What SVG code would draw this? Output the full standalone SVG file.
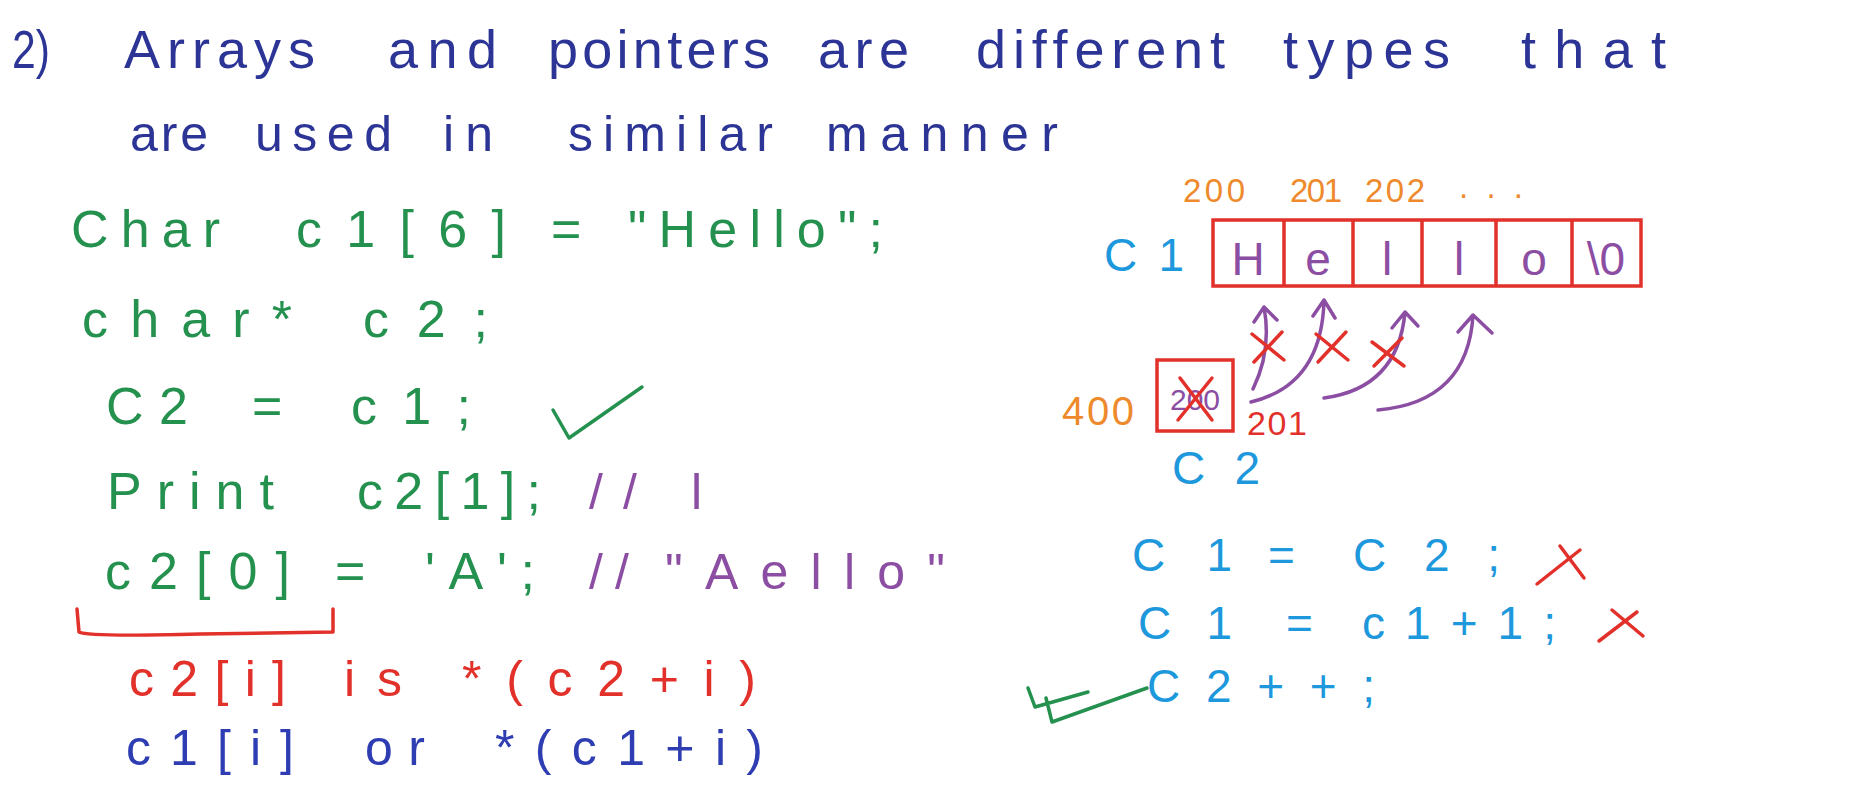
<svg xmlns="http://www.w3.org/2000/svg" width="1865" height="785" viewBox="0 0 1865 785">
<style>
text{font-family:"Liberation Sans","DejaVu Sans",sans-serif;}
.t1{font-size:54px;fill:#2c3596;}
.t2{font-size:50px;fill:#2c3596;}
.g{font-size:52px;fill:#24914f;}
.pu{font-size:50px;fill:#8c4ea3;}
.r{font-size:50px;fill:#e2312a;}
.b{font-size:50px;fill:#2f3db2;}
.cy{font-size:46px;fill:#1d98dc;}
.or{font-size:33px;fill:#ee8a2c;}
.cell{font-size:46px;fill:#8c4ea3;text-anchor:middle;}
.mark{fill:none;stroke-linecap:round;stroke-linejoin:round;stroke-width:3.5;}
.red{stroke:#e2312a;}
.grn{stroke:#24914f;}
.arr{fill:none;stroke:#8c4ea3;stroke-width:3.5;stroke-linecap:round;stroke-linejoin:round;}
</style>
<rect width="1865" height="785" fill="#ffffff"/>

<g id="title">
<text class="t1" x="12" y="68" textLength="38" lengthAdjust="spacingAndGlyphs">2)</text>
<text class="t1" x="124" y="68" textLength="191" lengthAdjust="spacing">Arrays</text>
<text class="t1" x="388" y="68" textLength="109" lengthAdjust="spacing">and</text>
<text class="t1" x="548" y="68" textLength="222" lengthAdjust="spacing">pointers</text>
<text class="t1" x="818" y="68" textLength="91" lengthAdjust="spacing">are</text>
<text class="t1" x="976" y="68" textLength="249" lengthAdjust="spacing">different</text>
<text class="t1" x="1283" y="68" textLength="167" lengthAdjust="spacing">types</text>
<text class="t1" x="1521" y="68" textLength="145" lengthAdjust="spacing">that</text>
<text class="t2" x="130" y="151" textLength="78" lengthAdjust="spacing">are</text>
<text class="t2" x="255" y="151" textLength="137" lengthAdjust="spacing">used</text>
<text class="t2" x="443" y="151" textLength="50" lengthAdjust="spacing">in</text>
<text class="t2" x="568" y="151" textLength="205" lengthAdjust="spacing">similar</text>
<text class="t2" x="826" y="151" textLength="232" lengthAdjust="spacing">manner</text>
</g>

<g id="code-left">
<text class="g" x="71" y="247" textLength="149" lengthAdjust="spacing">Char</text>
<text class="g" x="296" y="247" textLength="210" lengthAdjust="spacing">c1[6]</text>
<text class="g" x="551" y="247">=</text>
<text class="g" x="628" y="247" textLength="255" lengthAdjust="spacing">"Hello";</text>

<text class="g" x="82" y="337" textLength="210" lengthAdjust="spacing">char*</text>
<text class="g" x="363" y="337" textLength="125" lengthAdjust="spacing">c2;</text>

<text class="g" x="106" y="424" textLength="82" lengthAdjust="spacing">C2</text>
<text class="g" x="252" y="424">=</text>
<text class="g" x="351" y="424" textLength="120" lengthAdjust="spacing">c1;</text>
<path class="mark grn" d="M553,410 L569,438 L642,387"/>

<text class="g" x="107" y="509" textLength="167" lengthAdjust="spacing">Print</text>
<text class="g" x="357" y="509" textLength="184" lengthAdjust="spacing">c2[1];</text>
<text class="pu" x="589" y="509" textLength="113" lengthAdjust="spacing">// l</text>

<text class="g" x="105" y="589" textLength="185" lengthAdjust="spacing">c2[0]</text>
<text class="g" x="335" y="589">=</text>
<text class="g" x="425" y="589" textLength="110" lengthAdjust="spacing">'A';</text>
<text class="pu" x="589" y="589" textLength="40" lengthAdjust="spacing">//</text>
<text class="pu" x="665" y="589" textLength="280" lengthAdjust="spacing">"Aello"</text>
<path class="mark red" d="M77,609 L79,632 Q88,637 200,634 L333,632 L333,609"/>

<text class="r" x="129" y="696" textLength="157" lengthAdjust="spacing">c2[i]</text>
<text class="r" x="344" y="696" textLength="58" lengthAdjust="spacing">is</text>
<text class="r" x="462" y="696" textLength="294" lengthAdjust="spacing">*(c2+i)</text>

<text class="b" x="126" y="765" textLength="168" lengthAdjust="spacing">c1[i]</text>
<text class="b" x="365" y="765" textLength="60" lengthAdjust="spacing">or</text>
<text class="b" x="495" y="765" textLength="268" lengthAdjust="spacing">*(c1+i)</text>
</g>

<g id="array-c1">
<text class="or" x="1183" y="202" textLength="62" lengthAdjust="spacing">200</text>
<text class="or" x="1290" y="202" textLength="52" lengthAdjust="spacing">201</text>
<text class="or" x="1365" y="202" textLength="60" lengthAdjust="spacing">202</text>
<text class="or" x="1459" y="198" textLength="64" lengthAdjust="spacing">. . .</text>
<text class="cy" x="1104" y="271" textLength="80" lengthAdjust="spacing">C1</text>
<rect x="1213" y="220" width="428" height="66" fill="none" stroke="#e2312a" stroke-width="3.5"/>
<path d="M1284,220 V286 M1353,220 V286 M1422,220 V286 M1496,220 V286 M1572,220 V286" stroke="#e2312a" stroke-width="3.5" fill="none"/>
<text class="cell" x="1248" y="275">H</text>
<text class="cell" x="1318" y="275">e</text>
<text class="cell" x="1387" y="275">l</text>
<text class="cell" x="1459" y="275">l</text>
<text class="cell" x="1534" y="275">o</text>
<text class="cell" x="1606" y="275">\0</text>
</g>

<g id="pointer-c2">
<text class="or" x="1062" y="425" textLength="72" lengthAdjust="spacing" style="font-size:40px">400</text>
<rect x="1157" y="360" width="76" height="71" fill="none" stroke="#e2312a" stroke-width="3.5"/>
<text x="1195" y="410" text-anchor="middle" style="font-size:30px;fill:#8c4ea3">200</text>
<path class="mark red" d="M1180,378 L1212,420 M1212,378 L1178,420"/>
<text x="1247" y="435" textLength="60" lengthAdjust="spacing" style="font-size:34px;fill:#e2312a">201</text>
<text class="cy" x="1172" y="484" textLength="88" lengthAdjust="spacing">C2</text>
</g>

<g id="connectors">
<path class="arr" d="M1253,389 Q1272,350 1264,307 M1254,322 L1264,307 L1277,320"/>
<path class="arr" d="M1251,402 Q1322,385 1324,300 M1313,316 L1324,300 L1335,318"/>
<path class="arr" d="M1324,398 Q1398,388 1405,312 M1392,328 L1405,312 L1418,326"/>
<path class="arr" d="M1378,410 Q1468,402 1473,315 M1458,332 L1473,315 L1492,333"/>
<path class="mark red" d="M1252,334 L1284,360 M1282,332 L1254,362"/>
<path class="mark red" d="M1316,334 L1348,360 M1346,332 L1318,362"/>
<path class="mark red" d="M1372,342 L1404,366 M1402,338 L1374,366"/>
</g>

<g id="code-right">
<text class="cy" x="1132" y="571" textLength="100" lengthAdjust="spacing">C1</text>
<text class="cy" x="1268" y="571">=</text>
<text class="cy" x="1353" y="571" textLength="147" lengthAdjust="spacing">C2;</text>
<path class="mark red" d="M1560,546 L1584,578 M1580,550 L1537,584"/>
<text class="cy" x="1138" y="639" textLength="94" lengthAdjust="spacing">C1</text>
<text class="cy" x="1286" y="639">=</text>
<text class="cy" x="1362" y="639" textLength="194" lengthAdjust="spacing">c1+1;</text>
<path class="mark red" d="M1612,610 L1643,636 M1637,612 L1599,641"/>
<path class="mark grn" d="M1028,688 L1035,707 L1088,692 M1046,698 L1052,722 L1147,688"/>
<text class="cy" x="1147" y="702" textLength="228" lengthAdjust="spacing">C2++;</text>
</g>
</svg>
